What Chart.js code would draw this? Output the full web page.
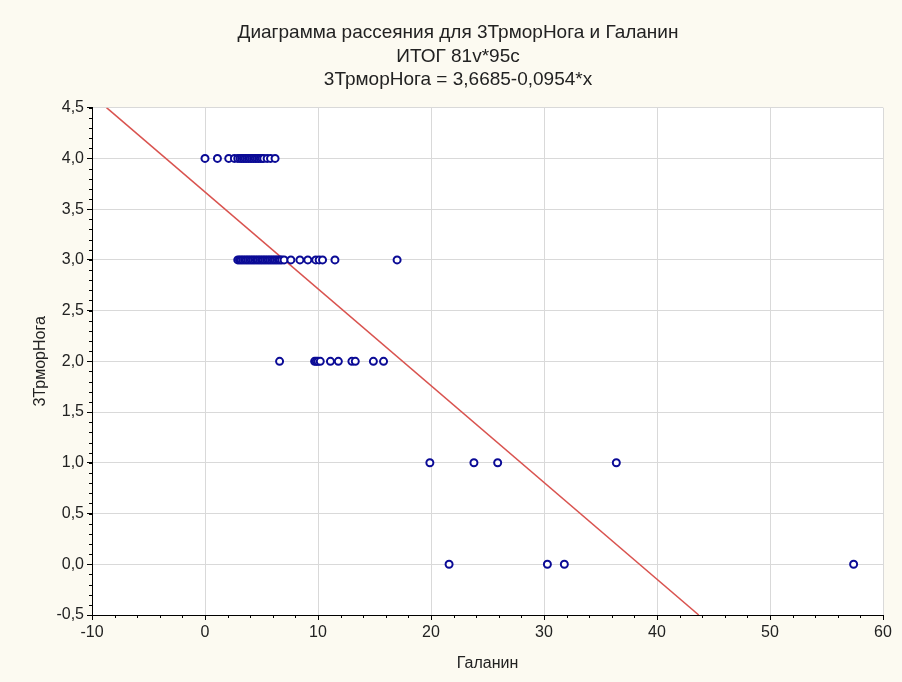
<!DOCTYPE html>
<html>
<head>
<meta charset="utf-8">
<script src="https://cdn.jsdelivr.net/npm/chart.js@4.4.0/dist/chart.umd.min.js"></script>
<style>
  html, body { margin: 0; padding: 0; background: #fcfaf1; }
  #wrap { width: 902px; height: 682px; }
</style>
</head>
<body>
<div id="wrap"><canvas id="scat" width="902" height="682"></canvas></div>
<script>
// Galanin values for each tremor level (dense runs estimated)
const galanin4 = [0, 1.1, 2.1, 2.6, 2.9, 3.1, 3.25, 3.4, 3.55, 3.7, 3.85, 4.0, 4.15, 4.3, 4.45, 4.6, 4.75, 4.9, 5.05, 5.2, 5.5, 5.8, 6.2];
const galanin3 = [2.9, 3.05, 3.2, 3.35, 3.5, 3.65, 3.8, 3.95, 4.1, 4.25, 4.4, 4.55, 4.7, 4.85, 5.0, 5.15, 5.3, 5.45, 5.6, 5.75, 5.9, 6.05, 6.2, 6.35, 6.5, 6.65, 6.8, 7.0, 7.6, 8.4, 9.1, 9.8, 10.1, 10.4, 11.5, 17.0];
const galanin2 = [6.6, 9.7, 9.85, 10.0, 10.2, 11.1, 11.8, 13.0, 13.3, 14.9, 15.8];
const galanin1 = [19.9, 23.8, 25.9, 36.4];
const galanin0 = [21.6, 30.3, 31.8, 57.4];
const tremorLevels = [4, 3, 2, 1, 0];

// regression from the title: 3ТрморНога = 3,6685-0,0954*x
const intercept = 3.6685;
const slope = -0.0954;

const xMin = -10, xMax = 60;
const yMin = -0.5, yMax = 4.5;

const titleLines = [
  'Диаграмма рассеяния для 3ТрморНога и Галанин',
  'ИТОГ 81v*95c',
  '3ТрморНога = 3,6685-0,0954*x'
];

const groups = [galanin4, galanin3, galanin2, galanin1, galanin0];
const points = [];
groups.forEach(function(g, i) {
  g.forEach(function(v) { points.push({x: v, y: tremorLevels[i]}); });
});

// fit line ends where it leaves the plot (top and bottom)
const fitLine = [
  {x: (yMax - intercept) / slope, y: yMax},
  {x: (yMin - intercept) / slope, y: yMin}
];

const fontFam = '"Liberation Sans", Arial, sans-serif';
const txt = '#222';

const plotBg = {
  id: 'plotBg',
  beforeDraw(chart) {
    const a = chart.chartArea, c = chart.ctx;
    c.save();
    c.fillStyle = '#ffffff';
    c.fillRect(a.left, a.top, a.right - a.left, a.bottom - a.top);
    c.restore();
  },
  afterDatasetsDraw(chart) {
    // minor tick marks on both axes
    const a = chart.chartArea, c = chart.ctx;
    const xs = chart.scales.x, ys = chart.scales.y;
    c.save();
    c.strokeStyle = '#000';
    c.lineWidth = 1;
    c.beginPath();
    for (let v = xMin; v <= xMax + 0.001; v += 2) {
      const px = Math.round(xs.getPixelForValue(v)) + 0.5;
      c.moveTo(px, a.bottom);
      c.lineTo(px, a.bottom + 3);
    }
    for (let v = yMin; v <= yMax + 0.001; v += 0.1) {
      const py = Math.round(ys.getPixelForValue(v)) + 0.5;
      c.moveTo(a.left, py);
      c.lineTo(a.left - 3, py);
    }
    c.stroke();
    c.restore();
  }
};

new Chart(document.getElementById('scat').getContext('2d'), {
  type: 'scatter',
  data: {
    datasets: [{
      label: 'Галанин',
      data: points,
      pointRadius: 3.5,
      pointHoverRadius: 3.5,
      pointBorderWidth: 2,
      borderColor: '#0b0b96',
      backgroundColor: '#ffffff',
      order: 1
    }, {
      type: 'line',
      label: 'fit',
      data: fitLine,
      borderColor: '#d9534f',
      borderWidth: 1.5,
      pointRadius: 0,
      fill: false,
      clip: 0,
      order: 2
    }]
  },
  options: {
    responsive: false,
    animation: false,
    layout: { padding: { left: 33, right: 19, top: 0, bottom: 0 } },
    plugins: {
      legend: { display: false },
      tooltip: { enabled: false },
      title: {
        display: true,
        text: titleLines,
        color: txt,
        font: { family: fontFam, size: 19, weight: 'normal', lineHeight: 1.24 },
        padding: { top: 21, bottom: 16 }
      }
    },
    scales: {
      x: {
        type: 'linear',
        min: xMin,
        max: xMax,
        afterFit(s) { s.height = 67; },
        ticks: {
          stepSize: 10,
          color: txt,
          padding: 3,
          font: { family: fontFam, size: 16 }
        },
        grid: { color: '#d9d9d9', tickColor: '#000', tickLength: 5 },
        border: { color: '#000', width: 1 },
        title: {
          display: true,
          text: 'Галанин',
          color: txt,
          font: { family: fontFam, size: 16, lineHeight: 1.2 },
          padding: { top: 4, bottom: 9 }
        }
      },
      y: {
        type: 'linear',
        min: yMin,
        max: yMax,
        afterFit(s) { s.width = 59; },
        ticks: {
          stepSize: 0.5,
          color: txt,
          padding: 3,
          font: { family: fontFam, size: 16 },
          callback: function(v) { return v.toFixed(1).replace('.', ','); }
        },
        grid: { color: '#d9d9d9', tickColor: '#000', tickLength: 5 },
        border: { color: '#000', width: 1 },
        title: {
          display: true,
          text: '3ТрморНога',
          color: txt,
          font: { family: fontFam, size: 16, lineHeight: 0.9 },
          padding: { top: 0, bottom: 0 }
        }
      }
    }
  },
  plugins: [plotBg]
});
</script>
</body>
</html>
